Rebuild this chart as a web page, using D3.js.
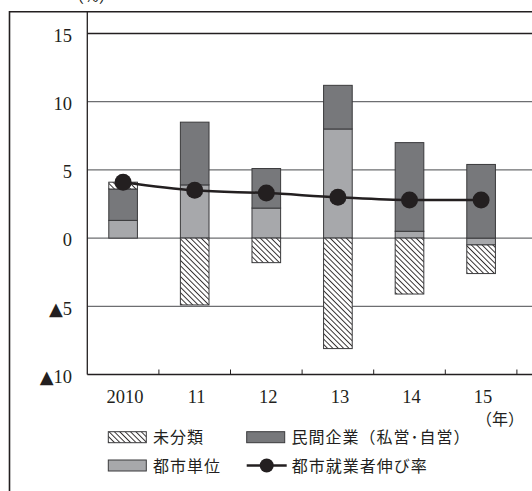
<!DOCTYPE html>
<html>
<head>
<meta charset="utf-8">
<script src="https://cdn.jsdelivr.net/npm/d3@7"></script>
<style>
  html, body { margin: 0; padding: 0; background: #fff; }
  svg { display: block; }
  .num { font-family: "Liberation Serif", "DejaVu Serif", serif; font-size: 18.5px; fill: #231f20; }
  .tri { font-family: "DejaVu Sans", sans-serif; font-size: 18px; }
  .cjk { font-family: "Noto Sans CJK JP", sans-serif; font-size: 16px; fill: #231f20; }
</style>
</head>
<body>
<script>
// Urban employment growth and its breakdown by employer type (%, year on year)
const years = ["2010", "11", "12", "13", "14", "15"];
const urbanUnits = [1.3, 3.9, 2.2, 8.0, 0.5, -0.5];      // 都市単位
const privateFirms = [2.3, 4.6, 2.9, 3.2, 6.5, 5.4];     // 民間企業（私営・自営）
const unclassified = [0.5, -4.9, -1.8, -8.1, -4.1, -2.1]; // 未分類
const employmentGrowth = [4.1, 3.5, 3.3, 3.0, 2.8, 2.8];  // 都市就業者伸び率
const yTicks = [15, 10, 5, 0, -5, -10];
const yTickLabels = ["15", "10", "5", "0", "▲5", "▲10"];
const seriesKeys = ["urban", "private", "unclass"];
const legendLabels = ["未分類", "民間企業（私営･自営）", "都市単位", "都市就業者伸び率"];

const W = 532, H = 491;
const frameLeft = 9.5, frameTop = 11.7;
const plotLeft = 87.3, plotRightEdge = 540;

const svg = d3.select("body").append("svg").attr("width", W).attr("height", H);

const defs = svg.append("defs");
const pat = defs.append("pattern")
  .attr("id", "hatch")
  .attr("patternUnits", "userSpaceOnUse")
  .attr("width", 3.8).attr("height", 3.8)
  .attr("patternTransform", "rotate(-45)");
pat.append("rect").attr("width", 3.8).attr("height", 3.8).attr("fill", "#fff");
pat.append("line").attr("x1", 0.5).attr("y1", 0).attr("x2", 0.5).attr("y2", 3.8)
  .attr("stroke", "#231f20").attr("stroke-width", 0.9);

const fills = { urban: "#a7a8ab", private: "#77787b", unclass: "url(#hatch)" };

const x = d3.scaleBand().domain(years).range([plotLeft, 516.9]).paddingInner(0.6).paddingOuter(0.3);
const y = d3.scaleLinear().domain([-10, 15]).range([374.5, 33.5]);

// outer frame (left and top edges)
svg.append("path")
  .attr("d", `M${frameLeft},${H}V${frameTop}H${W + 5}`)
  .attr("fill", "none").attr("stroke", "#231f20").attr("stroke-width", 1.6);

// horizontal gridlines
svg.append("g").selectAll("line")
  .data(yTicks.filter(v => v > -10))
  .join("line")
  .attr("x1", plotLeft).attr("x2", plotRightEdge)
  .attr("y1", d => y(d)).attr("y2", d => y(d))
  .attr("stroke", d => d === 15 ? "#231f20" : "#6d6e71")
  .attr("stroke-width", 1.3);

// y labels; negative values are written with a leading ▲
const yl = svg.append("g").selectAll("text")
  .data(yTicks)
  .join("text")
  .attr("class", "num")
  .attr("x", 72).attr("y", d => y(d) + 8.2)
  .attr("text-anchor", "end");
yl.filter(d => d < 0).append("tspan").attr("class", "tri").text("▲");
yl.append("tspan").text((d, i) => yTickLabels[i].replace("▲", ""));

// unit label
svg.append("text").attr("class", "cjk").attr("x", 68).attr("y", 1.5).text("（%）");

// stacked bars
const rows = years.map((yr, i) => ({ year: yr, urban: urbanUnits[i], private: privateFirms[i], unclass: unclassified[i] }));
const stacked = d3.stack().keys(seriesKeys).offset(d3.stackOffsetDiverging)(rows);

svg.append("g").selectAll("g")
  .data(stacked)
  .join("g")
  .attr("fill", d => fills[d.key])
  .selectAll("rect")
  .data(d => d)
  .join("rect")
  .attr("x", d => x(d.data.year))
  .attr("width", x.bandwidth())
  .attr("y", d => y(Math.max(d[0], d[1])))
  .attr("height", d => Math.abs(y(d[0]) - y(d[1])))
  .attr("stroke", "#3a3a3c").attr("stroke-width", 1);

// x axis at the bottom
const step = x.step();
const gap = step - x.bandwidth();
svg.append("line")
  .attr("x1", plotLeft).attr("x2", plotRightEdge)
  .attr("y1", y(-10)).attr("y2", y(-10))
  .attr("stroke", "#231f20").attr("stroke-width", 1.3);
svg.append("g").selectAll("line")
  .data(years)
  .join("line")
  .attr("x1", d => x(d) + x.bandwidth() + gap / 2)
  .attr("x2", d => x(d) + x.bandwidth() + gap / 2)
  .attr("y1", y(-10)).attr("y2", y(-10) - 5)
  .attr("stroke", "#231f20").attr("stroke-width", 1);

// left axis line
svg.append("line")
  .attr("x1", plotLeft).attr("x2", plotLeft)
  .attr("y1", frameTop).attr("y2", y(-10))
  .attr("stroke", "#231f20").attr("stroke-width", 1.3);

// x labels
svg.append("g").selectAll("text")
  .data(years)
  .join("text")
  .attr("class", "num")
  .attr("x", d => x(d) + x.bandwidth() / 2 + 2)
  .attr("y", 403)
  .attr("text-anchor", "middle")
  .text(d => d);

svg.append("text").attr("class", "cjk").attr("x", 476).attr("y", 425).text("（年）");

// growth line with markers
const pts = years.map((yr, i) => [x(yr) + x.bandwidth() / 2, y(employmentGrowth[i])]);
svg.append("path")
  .attr("d", d3.line().curve(d3.curveMonotoneX)(pts))
  .attr("fill", "none").attr("stroke", "#231f20").attr("stroke-width", 2.5);
svg.append("g").selectAll("circle")
  .data(pts)
  .join("circle")
  .attr("cx", d => d[0]).attr("cy", d => d[1]).attr("r", 8.5)
  .attr("fill", "#231f20");

// legend
const legendItems = [
  { label: legendLabels[0], kind: "unclass", x: 108.3, y: 431.7 },
  { label: legendLabels[1], kind: "private", x: 246.7, y: 431.7 },
  { label: legendLabels[2], kind: "urban", x: 108.3, y: 460 },
  { label: legendLabels[3], kind: "line", x: 246.7, y: 460 }
];
const lg = svg.append("g").selectAll("g").data(legendItems).join("g")
  .attr("transform", d => `translate(${d.x},${d.y})`);
lg.filter(d => d.kind !== "line").append("rect")
  .attr("width", 38).attr("height", 11)
  .attr("fill", d => fills[d.kind])
  .attr("stroke", "#3a3a3c").attr("stroke-width", 1);
const ll = lg.filter(d => d.kind === "line");
ll.append("line").attr("x1", 0).attr("x2", 40).attr("y1", 5.5).attr("y2", 5.5)
  .attr("stroke", "#231f20").attr("stroke-width", 2.5);
ll.append("circle").attr("cx", 20).attr("cy", 5.5).attr("r", 7).attr("fill", "#231f20");
lg.append("text").attr("class", "cjk")
  .attr("x", d => d.kind === "line" ? 45 : 44.7)
  .attr("y", 11.5)
  .attr("letter-spacing", 1)
  .text(d => d.label);
</script>
</body>
</html>
